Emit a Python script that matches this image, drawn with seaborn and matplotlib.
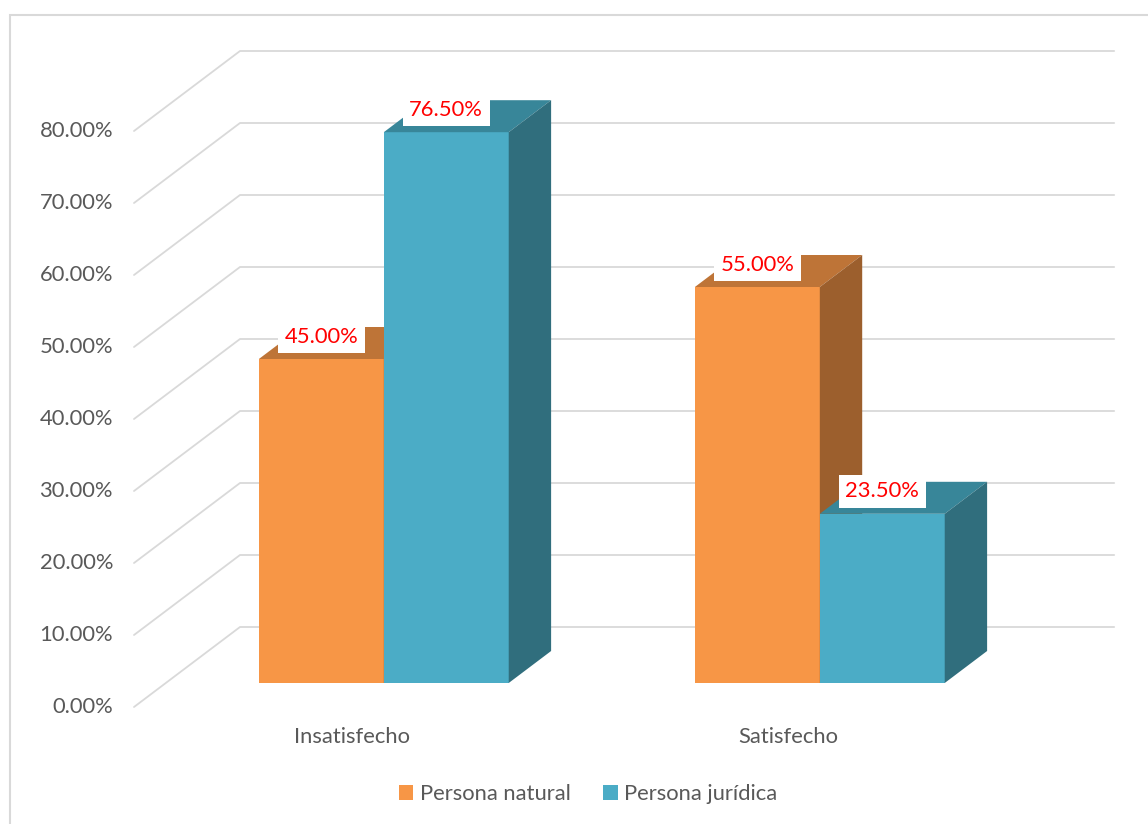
import numpy as np
import pandas as pd
import seaborn as sns
import matplotlib.pyplot as plt
import matplotlib.transforms as mtransforms
from matplotlib.patches import Polygon, Rectangle

# data
categories = ['Insatisfecho', 'Satisfecho']
series = ['Persona natural', 'Persona jurídica']
persona_natural = [45.0, 55.0]
persona_juridica = [76.5, 23.5]
y_ticks = [0, 10, 20, 30, 40, 50, 60, 70, 80]

front_colors = ['#F79646', '#4BACC6']
top_colors = ['#BE7437', '#388699']
side_colors = ['#9C5F2D', '#306E7D']
grid_color = '#D9D9D9'
text_color = '#595959'
FS = 15.8


def main():
    sns.set_style('white')
    plt.rcParams['font.family'] = ['Lato', 'DejaVu Sans']

    df = pd.DataFrame({
        'categoria': categories * 2,
        'serie': [series[0]] * 2 + [series[1]] * 2,
        'valor': persona_natural + persona_juridica,
    })

    fig = plt.figure(figsize=(11.48, 8.24), dpi=100)
    ax = fig.add_axes([0, 0, 1, 1])

    # pixel scale of the chart: 436 px per category, 7.2 px per percent
    px_x, px_y = 436.0, 7.2
    depth = np.array([106 / px_x, 80 / px_y])   # full depth of the 3D box
    bar_front = 0.30 * depth                    # bars sit a bit behind the front plane
    bar_depth = 0.40 * depth

    sns.barplot(data=df, x='categoria', y='valor', hue='serie', palette=front_colors,
                width=0.573, saturation=1, linewidth=0, legend=False, ax=ax)

    shift = mtransforms.Affine2D().translate(*bar_front) + ax.transData
    for i, patch in enumerate(ax.patches):
        s = i // len(categories)
        patch.set_transform(shift)
        patch.set_zorder(2 + s)
        x0, h = patch.get_x(), patch.get_height()
        x1 = x0 + patch.get_width()
        dx, dy = bar_depth
        top = Polygon([(x0, h), (x1, h), (x1 + dx, h + dy), (x0 + dx, h + dy)],
                      closed=True, fc=top_colors[s], ec='none', transform=shift, zorder=2.1 + s)
        side = Polygon([(x1, 0), (x1 + dx, dy), (x1 + dx, h + dy), (x1, h)],
                       closed=True, fc=side_colors[s], ec='none', transform=shift, zorder=2.1 + s)
        ax.add_patch(top)
        ax.add_patch(side)
        ax.text(x0 + patch.get_width() / 2 + bar_front[0], h + bar_front[1] + 3.1,
                f'{h:.2f}%', color='#FF0000', fontsize=FS, ha='center', va='center',
                zorder=5, bbox=dict(boxstyle='square,pad=0.3', fc='white', ec='none'))

    # back wall gridlines with the diagonal side wall
    for t in y_ticks:
        ax.plot([-0.5, -0.5 + depth[0], 1.505 + depth[0]], [t, t + depth[1], t + depth[1]],
                color=grid_color, lw=1.3, zorder=1, solid_joinstyle='round')
        ax.text(-0.548, t, f'{t:.2f}%', ha='right', va='center', fontsize=FS, color=text_color)

    for i, cat in enumerate(categories):
        ax.text(i, -30 / px_y, cat, ha='center', va='center', fontsize=FS, color=text_color)

    ax.set_xlim(-352 / px_x, (1148 - 352) / px_x)
    ax.set_ylim(-117 / px_y, (824 - 117) / px_y)
    ax.axis('off')

    handles = [Rectangle((0, 0), 1, 1, fc=c, ec='none') for c in front_colors]
    leg = fig.legend(handles, series, loc='center', bbox_to_anchor=(588 / 1148, 30 / 824),
                     ncol=2, frameon=False, fontsize=FS, handlelength=0.65, handleheight=0.65,
                     handletextpad=0.3, columnspacing=1.5)
    for txt in leg.get_texts():
        txt.set_color(text_color)

    # chart border (only left and top edges fall inside the picture)
    fig.patches.append(Rectangle((9.5 / 1148, -0.1), 1.2, 1.1 - 15 / 824, transform=fig.transFigure,
                                 fill=False, ec=grid_color, lw=1.5))

    fig.savefig('out.png', dpi=100)


if __name__ == '__main__':
    main()
